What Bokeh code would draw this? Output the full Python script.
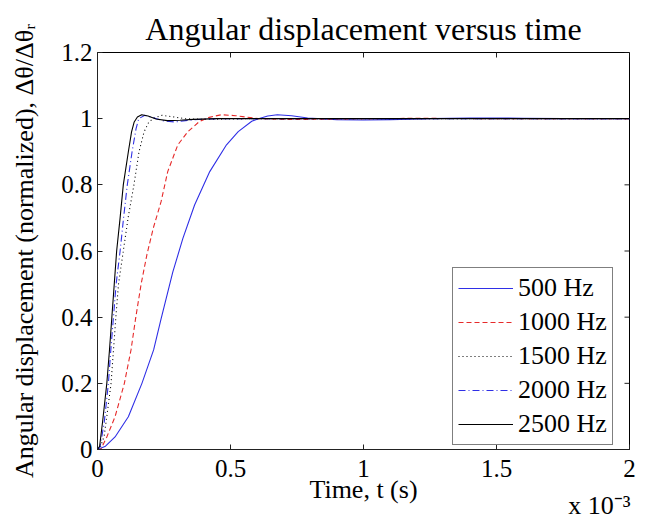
import math
from bokeh.plotting import figure
from bokeh.models import LinearAxis, Range1d, Legend, LegendItem, FixedTicker
from bokeh.embed import file_html
from bokeh.resources import INLINE

# ---------------- text ----------------
title_text = "Angular displacement versus time"
x_label = "Time, t (s)"
y_label = "Angular displacement (normalized), \u0394\u03b8/\u0394\u03b8\u1d63"
x_scale_text = "x 10\u207b\u00b3"

x_ticks = [0, 0.5, 1, 1.5, 2]
x_tick_labels = ["0", "0.5", "1", "1.5", "2"]
y_ticks = [0, 0.2, 0.4, 0.6, 0.8, 1, 1.2]
y_tick_labels = ["0", "0.2", "0.4", "0.6", "0.8", "1", "1.2"]

series_names = ["500 Hz", "1000 Hz", "1500 Hz", "2000 Hz", "2500 Hz"]

# ---------------- data (time in units of 1e-3 s) ----------------
t_500 = [0, 0.03, 0.066, 0.116, 0.167, 0.211, 0.239, 0.283, 0.321, 0.365, 0.422,
         0.485, 0.529, 0.58, 0.605, 0.64, 0.676, 0.73, 0.79, 0.9, 1.0, 1.1,
         1.25, 1.4, 1.5, 1.6, 1.75, 2.0]
y_500 = [0, 0.01, 0.038, 0.099, 0.2, 0.301, 0.395, 0.536, 0.638, 0.739, 0.84,
         0.921, 0.961, 0.992, 1.0, 1.008, 1.012, 1.009, 1.002, 0.997, 0.996, 0.997,
         1.0, 1.002, 1.002, 1.001, 1.0, 1.0]

t_1000 = [0, 0.012, 0.035, 0.066, 0.101, 0.126, 0.144, 0.164, 0.186, 0.21, 0.239,
          0.264, 0.302, 0.34, 0.384, 0.42, 0.466, 0.52, 0.605, 0.7, 0.8, 1.0,
          1.2, 1.5, 2.0]
y_1000 = [0, 0.0, 0.038, 0.099, 0.2, 0.301, 0.4, 0.5, 0.59, 0.67, 0.749,
          0.84, 0.921, 0.961, 0.992, 1.004, 1.012, 1.009, 1.0, 0.998, 0.998, 1.0,
          1.001, 1.0, 1.0]

t_1500 = [0, 0.01, 0.025, 0.035, 0.051, 0.060, 0.069, 0.079, 0.097, 0.115, 0.137,
          0.156, 0.175, 0.193, 0.215, 0.243, 0.28, 0.33, 0.4, 0.6, 1.0, 2.0]
y_1500 = [0, 0.005, 0.04, 0.1, 0.2, 0.3, 0.4, 0.5, 0.6, 0.7, 0.8,
          0.9, 0.96, 0.99, 1.003, 1.01, 1.006, 1.0, 0.998, 1.0, 1.0, 1.0]

t_2000 = [0, 0.01, 0.025, 0.041, 0.05, 0.060, 0.07, 0.085, 0.098, 0.112, 0.13,
          0.145, 0.155, 0.178, 0.21, 0.25, 0.29, 0.34, 0.4, 0.5, 1.0, 2.0]
y_2000 = [0, 0.01, 0.08, 0.2, 0.3, 0.4, 0.5, 0.6, 0.7, 0.8, 0.9,
          0.97, 1.0, 1.01, 1.003, 0.993, 0.99, 0.995, 0.999, 1.0, 1.0, 1.0]

t_2500 = [0, 0.008, 0.02, 0.035, 0.045, 0.054, 0.063, 0.072, 0.085, 0.097, 0.116,
          0.128, 0.138, 0.15, 0.166, 0.19, 0.22, 0.262, 0.31, 0.36, 0.45, 1.0, 2.0]
y_2500 = [0, 0.01, 0.09, 0.2, 0.3, 0.4, 0.5, 0.6, 0.7, 0.8, 0.9,
          0.96, 0.99, 1.005, 1.012, 1.008, 0.999, 0.994, 0.995, 0.998, 1.0, 1.0, 1.0]

series_t = [t_500, t_1000, t_1500, t_2000, t_2500]
series_y = [y_500, y_1000, y_1500, y_2000, y_2500]

# ---------------- styles / layout ----------------
FONT = "Liberation Serif"
BLUE = "#2f2fe6"
RED = "#e62a2a"
BLACK = "#000000"
AXIS = "#222222"
line_colors = [BLUE, RED, BLACK, BLUE, BLACK]
line_dashes = ["solid", "5 3", "1 3", "7 3 1 3", "solid"]
X_MIN, X_MAX = 0, 2
Y_MIN, Y_MAX = 0, 1.2
SCALE_LABEL_POS = 1.887   # horizontal anchor of the "x 10^-3" note (layout)

p = figure(width=640, height=521,
           x_range=Range1d(X_MIN, X_MAX), y_range=Range1d(Y_MIN, Y_MAX),
           output_backend="svg", toolbar_location=None,
           min_border_left=97, min_border_right=11,
           min_border_top=52, min_border_bottom=72)
p.xgrid.visible = False
p.ygrid.visible = False
p.outline_line_color = BLACK
p.background_fill_color = "white"
p.border_fill_color = "white"

p.title.text = title_text
p.title.align = "center"
p.title.text_font = FONT
p.title.text_font_size = "32px"
p.title.text_font_style = "normal"
p.title.text_color = BLACK
p.title.standoff = 12


def style_axis(ax):
    ax.major_tick_in = 5
    ax.major_tick_out = 0
    ax.minor_tick_in = 0
    ax.minor_tick_out = 0
    ax.axis_line_color = AXIS
    ax.major_tick_line_color = AXIS
    ax.major_label_text_font = FONT
    ax.major_label_text_font_size = "25px"
    ax.major_label_text_color = BLACK
    ax.axis_label_text_font = FONT
    ax.axis_label_text_font_style = "normal"
    ax.axis_label_text_font_size = "26px"
    ax.axis_label_text_color = BLACK


xax = p.xaxis[0]
xax.ticker = FixedTicker(ticks=x_ticks)
xax.major_label_overrides = dict(zip(x_ticks, x_tick_labels))
style_axis(xax)
xax.major_label_standoff = 10

# second, tick-less axis below: carries the axis title and the "x 10^-3" note
note_ax = LinearAxis(ticker=FixedTicker(ticks=[SCALE_LABEL_POS]),
                     major_label_overrides={SCALE_LABEL_POS: x_scale_text})
style_axis(note_ax)
note_ax.axis_line_color = None
note_ax.major_tick_line_color = None
note_ax.major_tick_in = 0
note_ax.major_label_text_font_size = "26px"
note_ax.major_label_standoff = 11
note_ax.axis_label = x_label
note_ax.axis_label_standoff = -48
p.add_layout(note_ax, "below")

yax = p.yaxis[0]
yax.ticker = FixedTicker(ticks=y_ticks)
yax.major_label_overrides = dict(zip(y_ticks, y_tick_labels))
style_axis(yax)
yax.major_label_standoff = 5
yax.axis_label = y_label
yax.axis_label_standoff = 19

# box ticks on the top and right edges, pointing inwards
p.ray(x=x_ticks, y=[Y_MAX] * len(x_ticks), length=5, length_units="screen",
      angle=-math.pi / 2, line_color=AXIS, line_width=1)
p.ray(x=[X_MAX] * len(y_ticks), y=y_ticks, length=5, length_units="screen",
      angle=math.pi, line_color=AXIS, line_width=1)

renderers = []
for t, y, c, d in zip(series_t, series_y, line_colors, line_dashes):
    r = p.line(t, y, line_color=c, line_width=1.1, line_dash=d, line_join="round")
    renderers.append(r)

legend = Legend(items=[LegendItem(label=n, renderers=[r]) for n, r in zip(series_names, renderers)],
                location=(355, 4), orientation="vertical",
                label_text_font=FONT, label_text_font_size="26px", label_text_color=BLACK,
                glyph_width=55, glyph_height=30, label_height=30, spacing=4,
                padding=5, margin=0, label_standoff=5,
                border_line_color=BLACK, border_line_width=1,
                background_fill_color="white", background_fill_alpha=1)
p.add_layout(legend)

open("out.html", "w").write(file_html(p, INLINE))
